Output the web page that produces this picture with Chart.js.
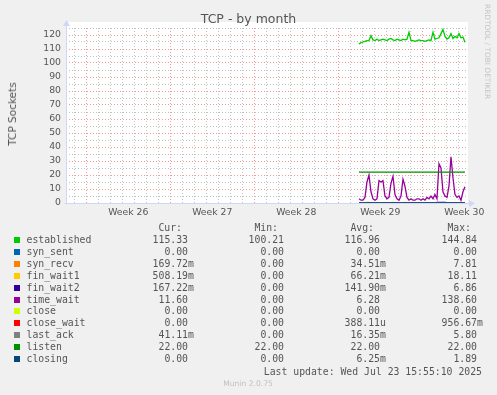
<!DOCTYPE html>
<html><head><meta charset="utf-8">
<script src="https://cdn.jsdelivr.net/npm/chart.js@4.4.1/dist/chart.umd.min.js"></script>
<style>
html,body{margin:0;padding:0;background:#f0f0f0;}
#wrap{position:relative;width:497px;height:395px;overflow:hidden;background:#f0f0f0;font-family:"DejaVu Sans",sans-serif;color:#555;}
#c{position:absolute;left:0;top:0;}
.t{position:absolute;white-space:pre;}
.mono{font-family:"DejaVu Sans Mono",monospace;font-size:9.8px;line-height:12px;height:12px;}
</style></head><body>
<div id="wrap"><canvas id="c" width="497" height="225"></canvas></div>
<script>
// ---------- data ----------
const chartTitle = 'TCP - by month';
const yAxisTitle = 'TCP Sockets';
const weekLabels = ['Week 26', 'Week 27', 'Week 28', 'Week 29', 'Week 30'];
const weekMidDays = [4.5, 11.5, 18.5, 25.5, 32.5];   // label positions (days)
const weekStartDays = [1, 8, 15, 22, 29];            // week boundaries (days)
const dayMin = -0.69, dayMax = 32.81;
const seriesStartDay = 23.725, seriesStepDay = 1 / 6;

const tcpStates = ['established','syn_sent','syn_recv','fin_wait1','fin_wait2','time_wait','close','close_wait','last_ack','listen','closing'];
const stateColors = ['#00CC00','#0066B3','#FF8000','#FFCC00','#330099','#990099','#CCFF00','#FF0000','#808080','#008F00','#00487D'];
const curValues = ['115.33','0.00','169.72m','508.19m','167.22m','11.60','0.00','0.00','41.11m','22.00','0.00'];
const minValues = ['100.21','0.00','0.00','0.00','0.00','0.00','0.00','0.00','0.00','22.00','0.00'];
const avgValues = ['116.96','0.00','34.51m','66.21m','141.90m','6.28','0.00','388.11u','16.35m','22.00','6.25m'];
const maxValues = ['144.84','0.00','7.81','18.11','6.86','138.60','0.00','956.67m','5.80','22.00','1.89'];

const established = [113.6,114.5,115,115.5,116,116,119.5,116.5,116,117,116,116.5,117,116.5,116,117,117.5,116.5,116,117,116.5,116,117,116.5,117,122,116,116,115.5,116,116.5,116,116,115.5,116,116.5,116,122,117,117.5,118,121,124,119,117,118,121,117.5,119,118,121,118,118.5,114.8];
const synSent    = [0,0,0,0,0,0,0,0,0,0,0,0,0,0,0,0,0,0,0,0,0,0,0,0,0,0,0,0,0,0,0,0,0,0,0,0,0,0,0,0,0,0,0,0,0,0,0,0,0,0,0,0,0,0];
const synRecv    = [0,0,0,0,0.3,0,0,0,0,0,0,0,0,0,0,0,0,0.3,0,0,0,0,0,0,0,0,0,0,0,0,0,0,0,0,0,0,0,0,0,0,0,0,0,0,0,0,0,0,0,0,0,0,0,0.2];
const finWait1   = [0,0,0,0,0.6,0.4,0,0,0,0,0,0,0,0,0,0,0,0.5,0,0,0,0,0,0.5,0,0,0,0,0,0,0,0,0,0,0,0,0,0,0,0,0,0,0,0,0,0,0,0.4,0,0,0,0,0,0.5];
const finWait2   = [0,0,0,0,0,0,0,0,0,0,0,0,0,0,0,0,0,0,0,0,0,0,0,0,0,0,0,0,0,0,0,0,0,0,0,0,0,0,0,0.4,0.5,0.5,0.4,0.5,0.3,0,0,0,0.3,0,0,0,0,0.2];
const timeWait   = [3,2,2,4,15,20,8,3,2,3,16,15,16,5,3,4,14,19,6,3,2,5,17,12,4,2,3,2,2,3,3,2,3,2,4,3,5,3,6,3,28,25,8,5,4,12,33,18,6,4,5,2,8,11.6];
const closeSt    = [0,0,0,0,0,0,0,0,0,0,0,0,0,0,0,0,0,0,0,0,0,0,0,0,0,0,0,0,0,0,0,0,0,0,0,0,0,0,0,0,0,0,0,0,0,0,0,0,0,0,0,0,0,0];
const closeWait  = [0,0,0,0,0,0,0,0,0,0,0,0,0,0,0,0,0,0,0,0,0,0,0,0,0,0,0,0,0,0,0,0,0,0,0,0,0,0,0,0,0,0,0,0,0,0,0,0,0,0,0,0,0,0];
const lastAck    = [0,0,0,0,0,0,0,0,0,0,0,0,0,0,0,0,0,0,0,0,0,0,0,0,0,0,0,0,0,0,0,0,0,0,0,0,0,0,0,0,0,0,0,0,0,0,0,0,0,0,0,0,0,0];
const listen     = [22,22,22,22,22,22,22,22,22,22,22,22,22,22,22,22,22,22,22,22,22,22,22,22,22,22,22,22,22,22,22,22,22,22,22,22,22,22,22,22,22,22,22,22,22,22,22,22,22,22,22,22,22,22];
const closing    = [0,0,0,0,0,0,0,0,0,0,0,0,0,0,0,0,0,0,0,0,0,0,0,0,0,0,0,0,0,0,0,0,0,0,0,0,0,0,0,0,0,0,0,0,0,0,0,0,0,0,0,0,0,0];
const seriesValues = [established, synSent, synRecv, finWait1, finWait2, timeWait, closeSt, closeWait, lastAck, listen, closing];

const yMin = 0, yMax = 125, yStep = 5, yLabelStep = 10;
const lastUpdate = 'Last update: Wed Jul 23 15:55:10 2025';
const muninVersion = 'Munin 2.0.75';
const sideText = 'RRDTOOL / TOBI OETIKER';

// ---------- chart ----------
const AXIS = '#cfd6f8';
const GRID_MINOR = 'rgba(180,180,180,0.8)';
const GRID_MAJOR = 'rgba(235,110,110,0.7)';

const datasets = seriesValues.map((vals, i) => ({
  label: tcpStates[i],
  data: vals.map((v, k) => ({ x: seriesStartDay + k * seriesStepDay, y: v })),
  borderColor: stateColors[i],
  backgroundColor: stateColors[i],
  borderWidth: 1.3,
  pointRadius: 0,
  tension: 0,
  order: tcpStates.length - 1 - i
}));

const bgAxisPlugin = {
  id: 'bgAxis',
  beforeDraw(chart) {
    const { ctx, chartArea: a } = chart;
    ctx.save();
    ctx.fillStyle = '#ffffff';
    ctx.fillRect(a.left, a.top - 6, a.right - a.left, a.bottom - a.top + 6);
    ctx.restore();
  },
  afterDatasetsDraw(chart) {
    const { ctx, chartArea: a } = chart;
    const x0 = Math.round(a.left) + 0.5, y0 = Math.round(a.bottom) + 0.5;
    ctx.save();
    ctx.strokeStyle = AXIS; ctx.fillStyle = AXIS; ctx.lineWidth = 1;
    ctx.beginPath();
    ctx.moveTo(x0, y0); ctx.lineTo(x0, a.top - 3);
    ctx.moveTo(x0 - 2, y0); ctx.lineTo(a.right + 2, y0);
    ctx.stroke();
    ctx.beginPath();
    ctx.moveTo(x0, a.top - 8); ctx.lineTo(x0 - 3.5, a.top - 2); ctx.lineTo(x0 + 3.5, a.top - 2); ctx.closePath();
    ctx.fill();
    ctx.beginPath();
    ctx.moveTo(a.right + 7, y0); ctx.lineTo(a.right + 1, y0 - 3.5); ctx.lineTo(a.right + 1, y0 + 3.5); ctx.closePath();
    ctx.fill();
    ctx.restore();
  }
};

const tickFont = { family: 'DejaVu Sans', size: 9.3 };

new Chart(document.getElementById('c'), {
  type: 'line',
  data: { datasets },
  options: {
    responsive: false,
    animation: false,
    events: [],
    layout: { padding: { top: 28, right: 29, bottom: 0, left: 0 } },
    plugins: { legend: { display: false }, title: { display: false }, tooltip: { enabled: false } },
    scales: {
      x: {
        type: 'linear', min: dayMin, max: dayMax,
        afterBuildTicks(scale) {
          const t = [];
          for (let d = Math.ceil(dayMin); d <= dayMax; d++) t.push({ value: d });
          weekMidDays.forEach(v => t.push({ value: v }));
          t.sort((p, q) => p.value - q.value);
          scale.ticks = t;
        },
        afterFit(scale) { scale.height = 22; },
        ticks: {
          autoSkip: false, maxRotation: 0, padding: 4, color: '#555', font: tickFont,
          callback(v) { const i = weekMidDays.indexOf(v); return i >= 0 ? weekLabels[i] : ''; }
        },
        grid: {
          drawTicks: false, lineWidth: 1,
          color(c) {
            const v = c.tick.value;
            if (!Number.isInteger(v)) return 'rgba(0,0,0,0)';
            return weekStartDays.includes(v) ? GRID_MAJOR : GRID_MINOR;
          }
        },
        border: { display: false, dash: [1, 2] }
      },
      y: {
        min: yMin, max: yMax,
        afterFit(scale) { scale.width = 66; },
        ticks: {
          stepSize: yStep, padding: 5, color: '#555', font: tickFont, autoSkip: false,
          callback(v) { return v % yLabelStep === 0 ? String(v) : ''; }
        },
        grid: {
          drawTicks: false, lineWidth: 1,
          color(c) { return c.tick.value % yLabelStep === 0 ? GRID_MAJOR : GRID_MINOR; }
        },
        border: { display: false, dash: [1, 2] }
      }
    }
  },
  plugins: [bgAxisPlugin]
});

// ---------- text & legend ----------
const wrap = document.getElementById('wrap');
function addText(txt, css, cls) {
  const d = document.createElement('div');
  d.className = 't' + (cls ? ' ' + cls : '');
  d.textContent = txt;
  Object.assign(d.style, css);
  wrap.appendChild(d);
  return d;
}
addText(chartTitle, { left: '0px', width: '497px', textAlign: 'center', top: '11px', fontSize: '12.5px', lineHeight: '15px', color: '#555' });
addText(yAxisTitle, { left: '12px', top: '114px', fontSize: '10.5px', lineHeight: '12px', color: '#555', transform: 'translate(-50%,-50%) rotate(-90deg)' });
addText(sideText, { left: '483px', top: '4px', fontSize: '7.4px', lineHeight: '9px', color: '#c4c4c4', writingMode: 'vertical-rl' });

const colRight = [188, 284, 380, 477];
const headers = ['Cur:', 'Min:', 'Avg:', 'Max:'];
const headerY = 228, rowY0 = 239.7, rowStep = 11.96;
headers.forEach((h, j) => addText(h, { right: (497 - colRight[j] + 6) + 'px', top: (headerY - 6) + 'px' }, 'mono'));

function addValue(str, j, cy) {
  const m = str.match(/^([\d.]+)([a-zA-Z]?)$/);
  addText(m[1], { right: (497 - colRight[j]) + 'px', top: (cy - 6) + 'px' }, 'mono');
  if (m[2]) addText(m[2], { left: colRight[j] + 'px', top: (cy - 6) + 'px' }, 'mono');
}
tcpStates.forEach((name, i) => {
  const cy = rowY0 + i * rowStep;
  const sq = document.createElement('div');
  Object.assign(sq.style, { position: 'absolute', left: '14px', top: (Math.round(cy) - 3) + 'px', width: '6px', height: '6px', background: stateColors[i] });
  wrap.appendChild(sq);
  addText(name, { left: '26.5px', top: (cy - 6) + 'px' }, 'mono');
  [curValues, minValues, avgValues, maxValues].forEach((arr, j) => addValue(arr[i], j, cy));
});
addText(lastUpdate, { right: '15px', top: (371.7 - 6) + 'px' }, 'mono');
addText(muninVersion, { left: '0px', width: '496px', textAlign: 'center', top: '379px', fontSize: '7.6px', lineHeight: '9px', color: '#c0c0c0' });
</script>
</body></html>
